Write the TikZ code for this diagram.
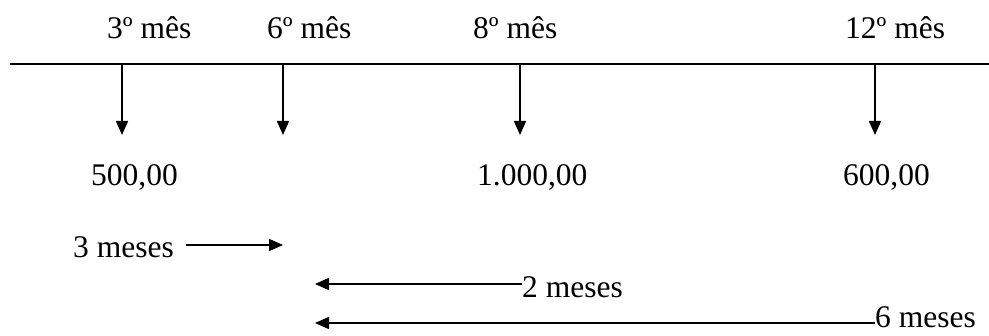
\documentclass[tikz,border=0pt]{standalone}
\usepackage{fontspec}
\setmainfont{Liberation Serif}
\usetikzlibrary{arrows.meta}
\begin{document}
\begin{tikzpicture}[x=1pt,y=-1pt,
  lbl/.style={anchor=base west,inner sep=0pt,font=\fontsize{31.5}{36}\selectfont},
  ln/.style={line width=1.5pt},
  arr/.style={line width=1.5pt,-{Triangle[length=14pt,width=12pt]}}]
\useasboundingbox (0,0) rectangle (989,336);
% timeline
\coordinate (L) at (10,64);
\coordinate (R) at (989,64);
\draw[ln] (L) -- (R);
% month labels
\node[lbl] (m3) at (107,39) {3º mês};
\node[lbl] (m6) at (267,39) {6º mês};
\node[lbl] (m8) at (473,39) {8º mês};
\node[lbl] (m12) at (845,39) {12º mês};
% down arrows
\coordinate (t3) at (122,64);  \coordinate (b3) at (122,135);
\coordinate (t6) at (283,64);  \coordinate (b6) at (283,135);
\coordinate (t8) at (520,64);  \coordinate (b8) at (520,135);
\coordinate (t12) at (875,64); \coordinate (b12) at (875,135);
\draw[arr] (t3) -- (b3);
\draw[arr] (t6) -- (b6);
\draw[arr] (t8) -- (b8);
\draw[arr] (t12) -- (b12);
% values
\node[lbl] (v3) at (91,186) {500,00};
\node[lbl] (v8) at (477,186) {1.000,00};
\node[lbl] (v12) at (843,186) {600,00};
% interval arrows
\node[lbl] (p3) at (73,258) {3 meses};
\coordinate (a3s) at (186,245); \coordinate (a3e) at (283,245);
\draw[arr] (a3s) -- (a3e);
\node[lbl] (p2) at (522,298) {2 meses};
\coordinate (a2s) at (522,284); \coordinate (a2e) at (315,284);
\draw[arr] (a2s) -- (a2e);
\node[lbl] (p6) at (875,328) {6 meses};
\coordinate (a6s) at (875,323); \coordinate (a6e) at (315,323);
\draw[arr] (a6s) -- (a6e);
\end{tikzpicture}
\end{document}
